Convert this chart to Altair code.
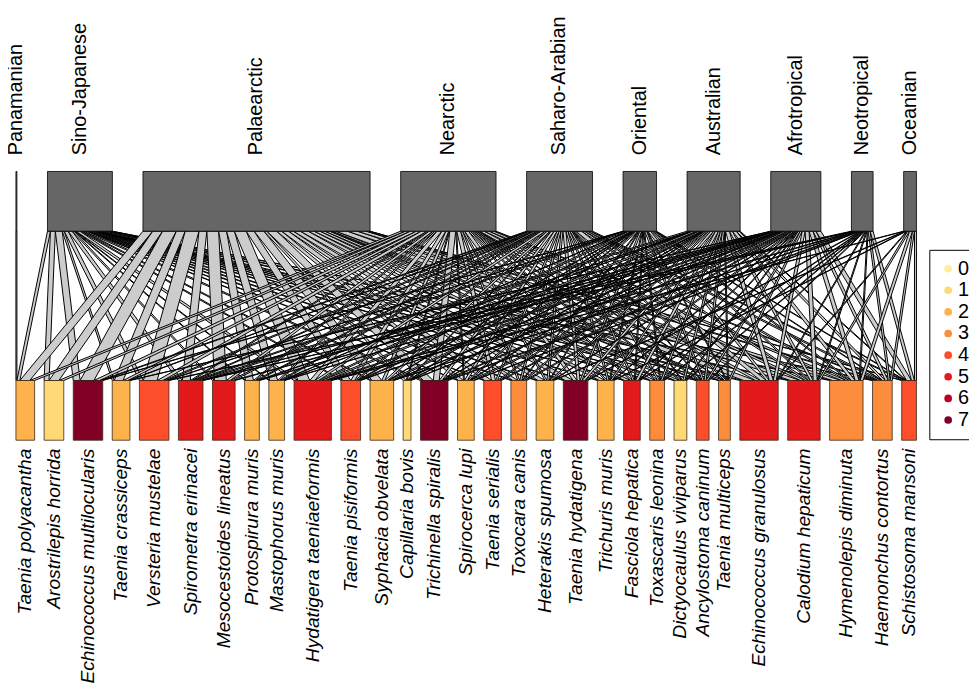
import altair as alt
import pandas as pd

# ---------------- data ----------------
regions = ["Panamanian", "Sino-Japanese", "Palaearctic", "Nearctic", "Saharo-Arabian",
           "Oriental", "Australian", "Afrotropical", "Neotropical", "Oceanian"]

parasites = ["Taenia polyacantha", "Arostrilepis horrida", "Echinococcus multilocularis",
             "Taenia crassiceps", "Versteria mustelae", "Spirometra erinacei",
             "Mesocestoides lineatus", "Protospirura muris", "Mastophorus muris",
             "Hydatigera taeniaeformis", "Taenia pisiformis", "Syphacia obvelata",
             "Capillaria bovis", "Trichinella spiralis", "Spirocerca lupi",
             "Taenia serialis", "Toxocara canis", "Heterakis spumosa",
             "Taenia hydatigena", "Trichuris muris", "Fasciola hepatica",
             "Toxascaris leonina", "Dictyocaulus viviparus", "Ancylostoma caninum",
             "Taenia multiceps", "Echinococcus granulosus", "Calodium hepaticum",
             "Hymenolepis diminuta", "Haemonchus contortus", "Schistosoma mansoni"]

parasite_level = [2, 1, 7, 2, 4, 5, 5, 2, 2, 5, 4, 2, 1, 7, 2,
                  4, 3, 2, 7, 2, 5, 3, 1, 4, 3, 5, 5, 3, 3, 4]

legend_levels = [0, 1, 2, 3, 4, 5, 6, 7]
legend_colors = ["#FFEDA0", "#FED976", "#FEB24C", "#FD8D3C",
                 "#FC4E2A", "#E31A1C", "#BD0026", "#800026"]

# interactions (one row per region, one value per parasite, parasite order as above)
panamanian     = [1, 0, 0, 0, 0, 0, 0, 0, 0, 0, 0, 0, 0, 0, 0, 0, 0, 0, 0, 0, 0, 0, 0, 0, 0, 0, 0, 0, 0, 0]
sino_japanese  = [3, 5, 7, 2, 4, 4, 2, 1, 1, 4, 2, 2, 0, 3, 1, 1, 2, 2, 2, 2, 1, 1, 1, 1, 1, 4, 3, 3, 1, 0]
palaearctic    = [10, 10, 14, 9, 14, 8, 12, 8, 8, 12, 8, 10, 3, 10, 5, 7, 5, 7, 8, 6, 6, 5, 5, 2, 4, 12, 10, 9, 3, 1]
nearctic       = [5, 5, 6, 5, 6, 2, 4, 2, 2, 5, 4, 3, 1, 6, 1, 4, 2, 2, 4, 2, 2, 2, 2, 2, 1, 5, 5, 5, 2, 0]
saharo_arabian = [0, 0, 2, 1, 3, 2, 3, 2, 2, 4, 2, 3, 1, 3, 3, 2, 2, 2, 3, 2, 2, 2, 1, 1, 2, 6, 3, 3, 3, 2]
oriental       = [0, 0, 1, 0, 1, 3, 0, 0, 1, 3, 1, 1, 1, 1, 2, 0, 1, 1, 2, 1, 1, 1, 0, 2, 1, 3, 2, 2, 1, 1]
australian     = [0, 0, 0, 0, 0, 4, 0, 1, 1, 4, 2, 3, 1, 1, 1, 2, 2, 2, 3, 2, 3, 2, 2, 2, 1, 4, 3, 4, 3, 1]
afrotropical   = [0, 0, 0, 1, 0, 1, 2, 1, 1, 3, 1, 1, 1, 2, 3, 2, 2, 1, 2, 1, 1, 1, 1, 2, 2, 3, 4, 4, 3, 5]
neotropical    = [0, 0, 0, 0, 2, 1, 0, 0, 0, 2, 0, 1, 0, 2, 1, 0, 0, 0, 1, 0, 1, 1, 1, 1, 0, 1, 1, 1, 2, 3]
oceanian       = [0, 0, 0, 0, 0, 0, 0, 0, 0, 1, 0, 0, 0, 0, 0, 0, 0, 1, 0, 1, 0, 0, 0, 0, 0, 1, 2, 3, 2, 2]

web = [panamanian, sino_japanese, palaearctic, nearctic, saharo_arabian,
       oriental, australian, afrotropical, neotropical, oceanian]

# ---------------- bipartite layout (plotweb style) ----------------
nr, nc = len(regions), len(parasites)
row_tot = [sum(r) for r in web]
col_tot = [sum(web[i][j] for i in range(nr)) for j in range(nc)]
total = sum(row_tot)
space = 0.44 * total
gap_hi = space / (nr - 1)
gap_lo = space / (nc - 1)
span = total + space

hi_x0, x = [], 0.0
for i in range(nr):
    hi_x0.append(x)
    x += row_tot[i] + gap_hi
lo_x0, x = [], 0.0
for j in range(nc):
    lo_x0.append(x)
    x += col_tot[j] + gap_lo

# y levels (abstract units)
LOW0, LOW1 = 0.0, 1.0
HIGH0, HIGH1 = 3.5, 4.5
TOP_LABEL_Y = 4.77
BOT_LABEL_Y = -0.14

top_seg = {}
for i in range(nr):
    c = hi_x0[i]
    for j in range(nc):
        w = web[i][j]
        if w > 0:
            top_seg[(i, j)] = (c, c + w)
            c += w
bot_seg = {}
for j in range(nc):
    c = lo_x0[j]
    for i in range(nr):
        w = web[i][j]
        if w > 0:
            bot_seg[(i, j)] = (c, c + w)
            c += w

link_rows = []
for k, (i, j) in enumerate(top_seg):
    t0, t1 = top_seg[(i, j)]
    b0, b1 = bot_seg[(i, j)]
    link_rows.append({"id": k, "y": HIGH0, "x": t0, "x2": t1})
    link_rows.append({"id": k, "y": LOW1, "x": b0, "x2": b1})
links = pd.DataFrame(link_rows)

high = pd.DataFrame({
    "name": regions,
    "x": hi_x0,
    "x2": [hi_x0[i] + row_tot[i] for i in range(nr)],
    "xc": [hi_x0[i] + row_tot[i] / 2 for i in range(nr)],
    "y": HIGH0, "y2": HIGH1, "ly": TOP_LABEL_Y,
})
low = pd.DataFrame({
    "name": parasites,
    "level": parasite_level,
    "x": lo_x0,
    "x2": [lo_x0[j] + col_tot[j] for j in range(nc)],
    "xc": [lo_x0[j] + col_tot[j] / 2 for j in range(nc)],
    "y": LOW0, "y2": LOW1, "ly": BOT_LABEL_Y,
})

FONT = "Liberation Sans"
xs = alt.Scale(domain=[0, span], range=[8, 916], nice=False, zero=False)
ys = alt.Scale(domain=[0, 4.5], range=[433, 162], nice=False, zero=False)

link_layer = alt.Chart(links).mark_area(
    orient="horizontal", fill="#CCCCCC", stroke="black", strokeWidth=1.0
).encode(
    x=alt.X("x:Q", scale=xs, axis=None, stack=False),
    x2="x2:Q",
    y=alt.Y("y:Q", scale=ys, axis=None),
    detail="id:N",
)

high_boxes = alt.Chart(high).mark_rect(fill="#666666", stroke="black", strokeWidth=0.8).encode(
    x=alt.X("x:Q", scale=xs, axis=None), x2="x2:Q",
    y=alt.Y("y:Q", scale=ys, axis=None), y2="y2:Q",
)

low_boxes = alt.Chart(low).mark_rect(stroke="#3a2a1a", strokeWidth=0.8).encode(
    x=alt.X("x:Q", scale=xs, axis=None), x2="x2:Q",
    y=alt.Y("y:Q", scale=ys, axis=None), y2="y2:Q",
    color=alt.Color(
        "level:O",
        scale=alt.Scale(domain=legend_levels, range=legend_colors),
        legend=alt.Legend(
            title=None, orient="none", legendX=929, legendY=241,
            padding=9, strokeColor="black", fillColor="white",
            symbolType="circle", symbolSize=60, symbolStrokeWidth=0,
            labelFont=FONT, labelFontSize=20, labelOffset=0, rowPadding=1.8,
        ),
    ),
)

high_text = alt.Chart(high).mark_text(
    angle=270, align="left", baseline="middle", font=FONT, fontSize=20, color="black"
).encode(
    x=alt.X("xc:Q", scale=xs, axis=None),
    y=alt.Y("ly:Q", scale=ys, axis=None),
    text="name:N",
)

low_text = alt.Chart(low).mark_text(
    angle=270, align="right", baseline="middle", font=FONT, fontSize=19.4,
    fontStyle="italic", color="black"
).encode(
    x=alt.X("xc:Q", scale=xs, axis=None),
    y=alt.Y("ly:Q", scale=ys, axis=None),
    text="name:N",
)

chart = alt.layer(link_layer, high_boxes, low_boxes, high_text, low_text).properties(
    width=969, height=680,
    autosize=alt.AutoSizeParams(type="none"),
    padding=0,
).configure_view(stroke=None)

chart.save("out.html", embed_options={"renderer": "svg", "actions": False})
